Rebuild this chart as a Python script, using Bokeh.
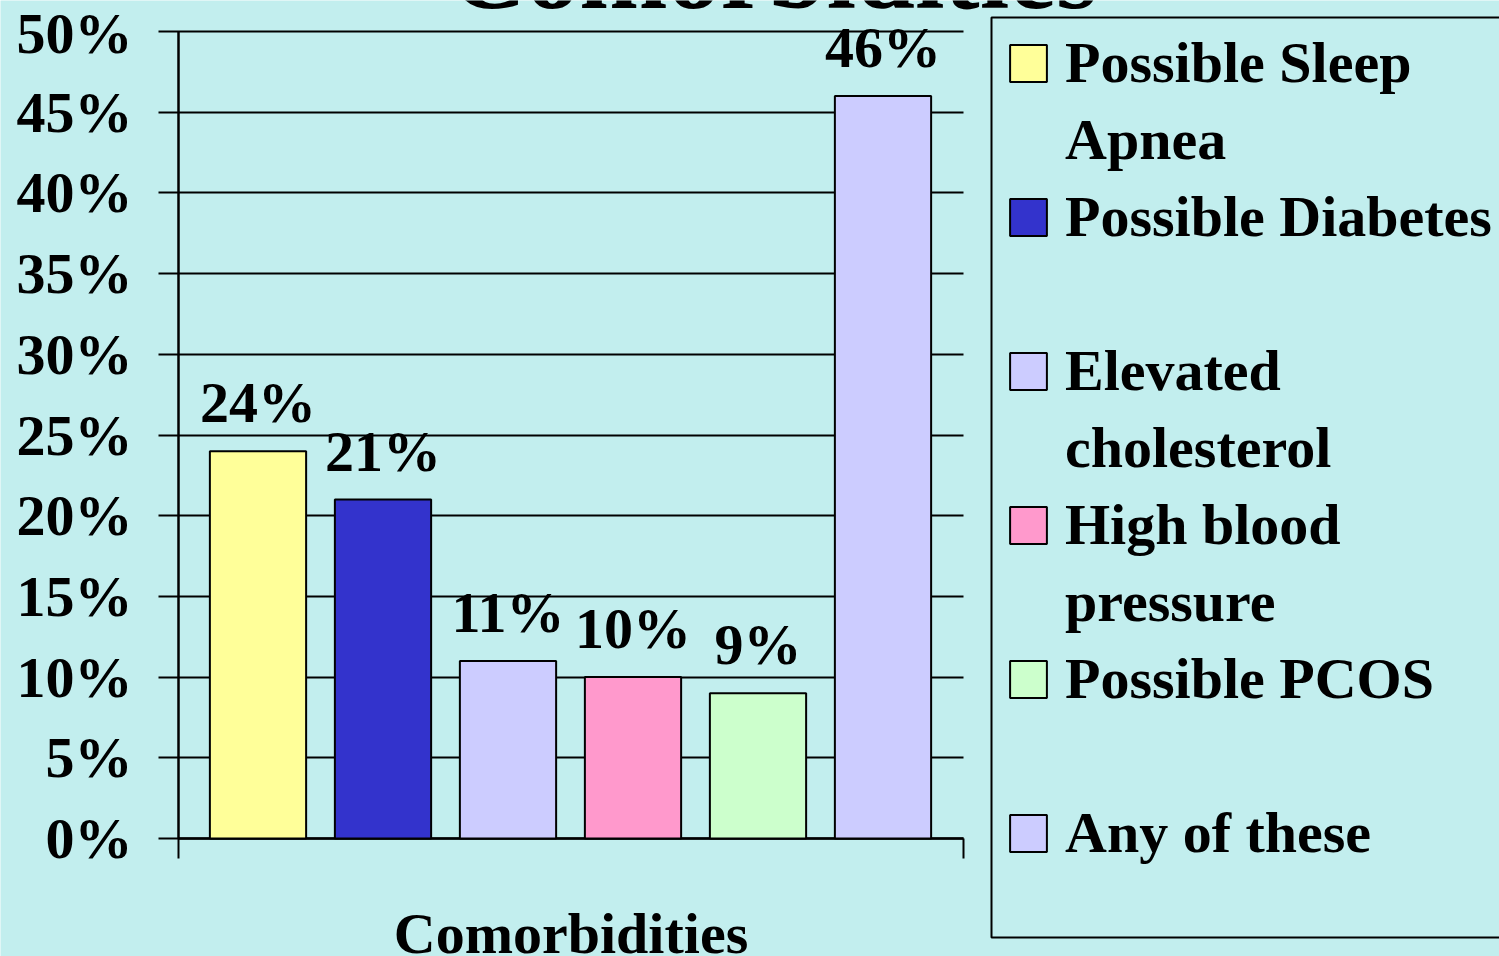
from bokeh.plotting import figure
from bokeh.models import (ColumnDataSource, Range1d, FixedTicker, PrintfTickFormatter,
                          LabelSet, Label, Legend, LegendItem, BoxAnnotation)
from bokeh.embed import file_html
from bokeh.resources import INLINE

# ---- data ----
categories = ["Possible Sleep\nApnea", "Possible Diabetes", "Elevated\ncholesterol",
              "High blood\npressure", "Possible PCOS", "Any of these"]
values = [24, 21, 11, 10, 9, 46]
labels = ["24%", "21%", "11%", "10%", "9%", "46%"]
colors = ["#FFFF99", "#3333CC", "#CCCCFF", "#FF99CC", "#CCFFCC", "#CCCCFF"]
y_ticks = [0, 5, 10, 15, 20, 25, 30, 35, 40, 45, 50]
axis_title = "Comorbidities"
chart_title = "Comorbidities"

BG = "#C2EEEE"
FONT = "Liberation Serif"
W, H = 1499, 956

# plot-area geometry (pixels on the canvas)
PL, PR, PT, PB = 178, 963, 31, 838
x0, x1 = -0.636, 5.644          # data extent of the category band
y0, y1 = 0, 50
sx = (PR - PL) / (x1 - x0)      # px per x unit
sy = (PB - PT) / (y1 - y0)      # px per y unit

def px2x(px):
    return x0 + (px - PL) / sx

def px2y(py):
    return y0 + (PB - py) / sy

positions = list(range(len(values)))
src = ColumnDataSource(dict(x=positions, top=values, color=colors, label=labels))

p = figure(width=W, height=H, output_backend="svg", toolbar_location=None,
           x_range=Range1d(px2x(0), px2x(W)), y_range=Range1d(px2y(H), px2y(0)),
           min_border=0)
p.background_fill_color = BG
p.border_fill_color = BG
p.outline_line_color = None
p.grid.visible = False

r = p.vbar(x="x", top="top", width=0.77, bottom=0, source=src,
           fill_color="color", line_color="black", line_width=2)
# invisible renderer used only for the continuation lines of the legend
blank = p.vbar(x=[], top=[], width=0.5, fill_alpha=0, line_alpha=0)

# y axis (its inward ticks form the horizontal grid lines)
ya = p.yaxis[0]
ya.fixed_location = x0
ya.bounds = (y0, y1)
ya.level = "underlay"
ya.ticker = FixedTicker(ticks=y_ticks)
ya.formatter = PrintfTickFormatter(format="%d%%")
ya.major_label_text_font = FONT
ya.major_label_text_font_style = "bold"
ya.major_label_text_font_size = "58px"
ya.major_label_text_color = "black"
ya.major_label_standoff = 26
ya.major_tick_out = 20
ya.major_tick_in = PR - PL
ya.minor_tick_out = 0
ya.minor_tick_in = 0
ya.major_tick_line_width = 2
ya.major_tick_line_color = "black"
ya.axis_line_width = 2.5
ya.axis_line_color = "black"

# x axis: a single category band, marked only at its two edges (unlabelled ticks)
xa = p.xaxis[0]
xa.fixed_location = y0
xa.bounds = (x0, x1)
xa.level = "underlay"
xa.ticker = FixedTicker(ticks=[], minor_ticks=[x0 + 0.001, x1 - 0.001])
xa.major_tick_out = 0
xa.major_tick_in = 0
xa.minor_tick_out = 20
xa.minor_tick_in = 0
xa.minor_tick_line_width = 2
xa.minor_tick_line_color = "black"
xa.axis_line_width = 2.5
xa.axis_line_color = "black"
xa.axis_label = axis_title
xa.axis_label_text_font = FONT
xa.axis_label_text_font_style = "bold"
xa.axis_label_text_font_size = "58px"
xa.axis_label_text_color = "black"
xa.axis_label_standoff = 42

# value labels
ls = LabelSet(x="x", y="top", text="label", source=src, y_offset=29,
              text_align="center", text_baseline="alphabetic",
              text_font=FONT, text_font_style="bold", text_font_size="58px", text_color="black")
p.add_layout(ls)

# slide title, cut off by the top edge
p.add_layout(Label(x=px2x(773), y=px2y(-28), text=chart_title,
                   text_align="center", text_baseline="alphabetic",
                   text_font=FONT, text_font_style="bold", text_font_size="106px",
                   text_color="black"))

# legend frame
p.add_layout(BoxAnnotation(left=px2x(991), right=px2x(1560), top=px2y(17), bottom=px2y(937),
                           fill_color=BG, fill_alpha=1.0, line_color="black", line_width=2,
                           line_alpha=1.0, level="annotation"))

# legend: one row per text line, the swatch on the first line of each entry
items = []
for i, cat in enumerate(categories):
    lines = cat.split("\n")
    items.append(LegendItem(label=lines[0], renderers=[r], index=i))
    items.append(LegendItem(label=lines[1] if len(lines) > 1 else " ", renderers=[blank]))
leg = Legend(items=items, location=(1005, 13), orientation="vertical",
             label_text_font=FONT, label_text_font_style="bold", label_text_font_size="58px",
             label_text_color="black", glyph_width=46, glyph_height=46, label_standoff=14,
             label_height=67, spacing=10, padding=13, margin=0,
             border_line_color=None, background_fill_alpha=0.0, level="overlay")
p.add_layout(leg)

open("out.html", "w").write(file_html(p, INLINE))
